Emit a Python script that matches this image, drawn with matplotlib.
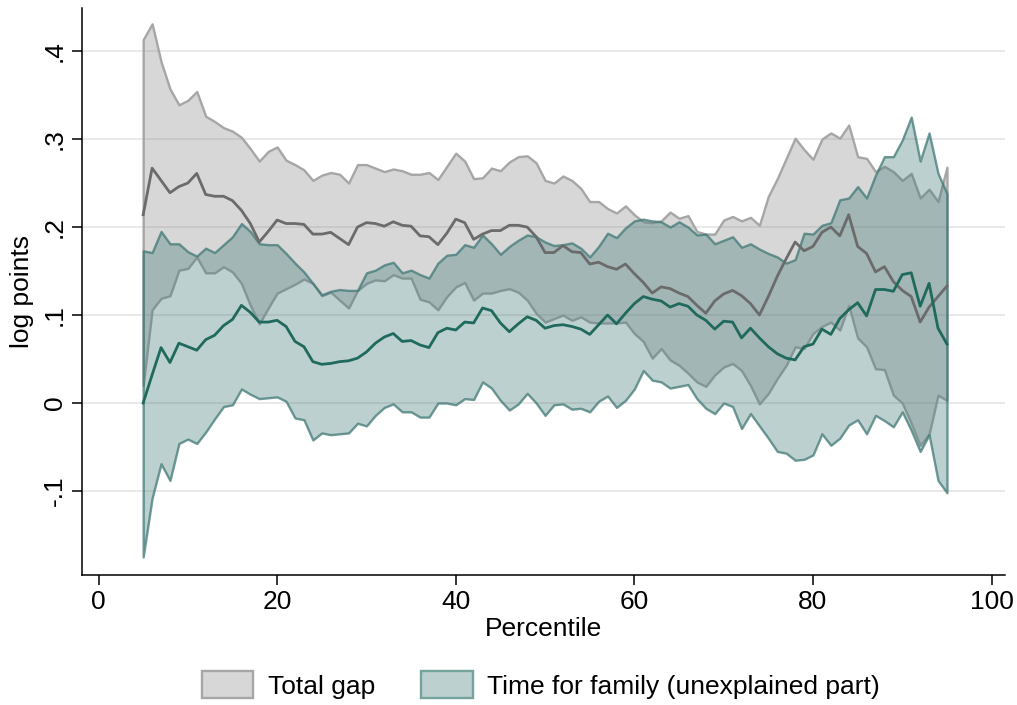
import matplotlib
matplotlib.use("Agg")
import matplotlib.pyplot as plt
from matplotlib.patches import Patch
import numpy as np

plt.rcParams["font.family"] = ["Liberation Sans", "DejaVu Sans"]

# Quantile-regression estimates by percentile of the wage distribution
percentile = np.arange(5, 96)

total_hi = [0.413, 0.431, 0.388, 0.357, 0.339, 0.344, 0.354, 0.326, 0.320, 0.313,
            0.309, 0.302, 0.289, 0.275, 0.286, 0.291, 0.276, 0.271, 0.265, 0.253,
            0.259, 0.262, 0.260, 0.250, 0.271, 0.271, 0.267, 0.263, 0.266, 0.264,
            0.260, 0.260, 0.262, 0.254, 0.269, 0.284, 0.275, 0.255, 0.256, 0.267,
            0.264, 0.274, 0.280, 0.281, 0.273, 0.253, 0.250, 0.258, 0.253, 0.244,
            0.229, 0.229, 0.221, 0.216, 0.224, 0.214, 0.206, 0.205, 0.207, 0.217,
            0.210, 0.213, 0.195, 0.192, 0.192, 0.208, 0.212, 0.207, 0.211, 0.202,
            0.235, 0.255, 0.278, 0.301, 0.288, 0.277, 0.300, 0.307, 0.301, 0.316,
            0.280, 0.278, 0.263, 0.269, 0.263, 0.253, 0.261, 0.233, 0.243, 0.229,
            0.268]
total_pt = [0.214, 0.267, 0.253, 0.239, 0.246, 0.250, 0.261, 0.237, 0.235, 0.235,
            0.230, 0.219, 0.204, 0.183, 0.195, 0.208, 0.204, 0.204, 0.203, 0.192,
            0.192, 0.194, 0.187, 0.180, 0.200, 0.205, 0.204, 0.201, 0.206, 0.202,
            0.201, 0.190, 0.189, 0.180, 0.193, 0.209, 0.205, 0.186, 0.192, 0.196,
            0.196, 0.202, 0.202, 0.200, 0.189, 0.171, 0.171, 0.179, 0.172, 0.171,
            0.158, 0.160, 0.155, 0.152, 0.158, 0.147, 0.137, 0.125, 0.132, 0.130,
            0.125, 0.121, 0.111, 0.102, 0.116, 0.124, 0.128, 0.122, 0.113, 0.100,
            0.121, 0.144, 0.164, 0.183, 0.173, 0.178, 0.194, 0.200, 0.190, 0.214,
            0.178, 0.170, 0.149, 0.155, 0.138, 0.128, 0.121, 0.092, 0.109, 0.121,
            0.133]
total_lo = [0.020, 0.106, 0.119, 0.122, 0.151, 0.153, 0.166, 0.148, 0.148, 0.155,
            0.149, 0.136, 0.111, 0.090, 0.108, 0.125, 0.130, 0.135, 0.141, 0.136,
            0.122, 0.126, 0.117, 0.108, 0.128, 0.136, 0.140, 0.139, 0.146, 0.142,
            0.142, 0.118, 0.115, 0.106, 0.121, 0.132, 0.137, 0.117, 0.125, 0.125,
            0.128, 0.130, 0.126, 0.117, 0.102, 0.092, 0.096, 0.100, 0.094, 0.098,
            0.092, 0.091, 0.091, 0.091, 0.092, 0.079, 0.070, 0.051, 0.062, 0.049,
            0.043, 0.034, 0.024, 0.019, 0.032, 0.041, 0.045, 0.037, 0.020, -0.001,
            0.011, 0.028, 0.043, 0.064, 0.062, 0.079, 0.087, 0.092, 0.083, 0.111,
            0.074, 0.064, 0.039, 0.038, 0.009, 0.000, -0.023, -0.048, -0.035, 0.009,
            0.003]

fam_hi = [0.173, 0.171, 0.195, 0.181, 0.181, 0.172, 0.167, 0.176, 0.171, 0.180,
          0.189, 0.204, 0.195, 0.181, 0.180, 0.180, 0.170, 0.159, 0.149, 0.136,
          0.123, 0.127, 0.129, 0.128, 0.128, 0.148, 0.151, 0.157, 0.160, 0.148,
          0.151, 0.146, 0.142, 0.159, 0.168, 0.169, 0.180, 0.177, 0.191, 0.181,
          0.169, 0.178, 0.185, 0.191, 0.189, 0.183, 0.179, 0.180, 0.182, 0.176,
          0.166, 0.178, 0.193, 0.188, 0.199, 0.207, 0.209, 0.207, 0.206, 0.200,
          0.206, 0.200, 0.191, 0.192, 0.181, 0.185, 0.189, 0.177, 0.181, 0.175,
          0.170, 0.166, 0.159, 0.163, 0.193, 0.192, 0.202, 0.205, 0.231, 0.233,
          0.246, 0.233, 0.259, 0.280, 0.280, 0.299, 0.325, 0.275, 0.307, 0.261,
          0.238]
fam_pt = [0.000, 0.032, 0.063, 0.046, 0.068, 0.064, 0.060, 0.072, 0.077, 0.088,
          0.095, 0.111, 0.103, 0.092, 0.092, 0.094, 0.087, 0.070, 0.064, 0.047,
          0.044, 0.045, 0.047, 0.048, 0.051, 0.058, 0.068, 0.075, 0.079, 0.070,
          0.071, 0.066, 0.063, 0.080, 0.085, 0.083, 0.092, 0.091, 0.108, 0.105,
          0.091, 0.081, 0.090, 0.098, 0.094, 0.085, 0.088, 0.089, 0.087, 0.084,
          0.078, 0.089, 0.100, 0.090, 0.102, 0.113, 0.121, 0.118, 0.116, 0.109,
          0.113, 0.110, 0.100, 0.094, 0.084, 0.093, 0.092, 0.074, 0.085, 0.074,
          0.064, 0.056, 0.051, 0.049, 0.064, 0.067, 0.084, 0.078, 0.096, 0.106,
          0.114, 0.099, 0.129, 0.129, 0.127, 0.146, 0.148, 0.110, 0.136, 0.085,
          0.067]
fam_lo = [-0.175, -0.108, -0.069, -0.088, -0.046, -0.041, -0.046, -0.033, -0.018, -0.004,
          -0.002, 0.016, 0.010, 0.005, 0.006, 0.007, 0.002, -0.017, -0.019, -0.042,
          -0.034, -0.036, -0.035, -0.034, -0.023, -0.026, -0.014, -0.005, -0.001, -0.010,
          -0.010, -0.016, -0.016, 0.000, 0.000, -0.002, 0.005, 0.004, 0.024, 0.017,
          0.003, -0.008, -0.001, 0.011, 0.000, -0.014, -0.002, -0.001, -0.007, -0.006,
          -0.010, 0.002, 0.008, -0.005, 0.003, 0.016, 0.037, 0.026, 0.024, 0.017,
          0.019, 0.021, 0.005, -0.006, -0.012, 0.000, -0.004, -0.029, -0.012, -0.026,
          -0.040, -0.055, -0.057, -0.065, -0.064, -0.059, -0.035, -0.048, -0.040, -0.025,
          -0.019, -0.035, -0.014, -0.020, -0.027, -0.010, -0.031, -0.055, -0.036, -0.088,
          -0.102]

xticks = [0, 20, 40, 60, 80, 100]
yticks = [-0.1, 0, 0.1, 0.2, 0.3, 0.4]
ytick_labels = ["-.1", "0", ".1", ".2", ".3", ".4"]
legend_labels = ["Total gap", "Time for family (unexplained part)"]

GRAY_FILL = (0.5, 0.5, 0.5, 0.31)
GRAY_EDGE = "#a6a6a6"
TEAL = (64 / 255, 121 / 255, 118 / 255)
TEAL_FILL = (*TEAL, 0.35)
TEAL_EDGE = (*TEAL, 0.75)
GRAY_LINE = "#6b6b6b"
TEAL_LINE = "#1f6a5c"

FS = 19

fig = plt.figure(figsize=(10.17, 7.05), dpi=100)
ax = fig.add_axes([82 / 1017, 130 / 705, 923 / 1017, 567 / 705])

ax.fill_between(percentile, total_lo, total_hi, facecolor=GRAY_FILL,
                edgecolor=GRAY_EDGE, linewidth=1.7, zorder=2)
ax.fill_between(percentile, fam_lo, fam_hi, facecolor=TEAL_FILL,
                edgecolor=TEAL_EDGE, linewidth=1.7, zorder=3)
ax.plot(percentile, total_pt, color=GRAY_LINE, lw=2.0, zorder=4)
ax.plot(percentile, fam_pt, color=TEAL_LINE, lw=2.0, zorder=5)

ax.set_xlim(-1.85, 101.5)
ax.set_ylim(-0.1955, 0.449)
ax.set_xticks(xticks)
ax.set_xticklabels([str(v) for v in xticks], fontsize=FS)
ax.set_yticks(yticks)
ax.set_yticklabels(ytick_labels, fontsize=FS, rotation=90, va="center")

ax.yaxis.grid(True, color="#e3e3e3", lw=1.1)
ax.set_axisbelow(True)
for side in ("top", "right"):
    ax.spines[side].set_visible(False)
for side in ("left", "bottom"):
    ax.spines[side].set_linewidth(1.1)
ax.tick_params(direction="out", length=7, width=1.1, pad=4)

ax.set_xlabel("Percentile", fontsize=FS, labelpad=2)
ax.set_ylabel("log points", fontsize=FS, labelpad=6)

handles = [
    Patch(facecolor="#d7d7d7", edgecolor=GRAY_EDGE, linewidth=1.7),
    Patch(facecolor="#bcd0cf", edgecolor="#74a39b", linewidth=1.7),
]
ax.legend(handles, legend_labels, loc="center", bbox_to_anchor=(0.497, -0.194),
          ncol=2, frameon=False, fontsize=FS, handlelength=1.95,
          handleheight=1.15, handletextpad=0.55, columnspacing=1.75)

fig.savefig("out.png", dpi=100)
